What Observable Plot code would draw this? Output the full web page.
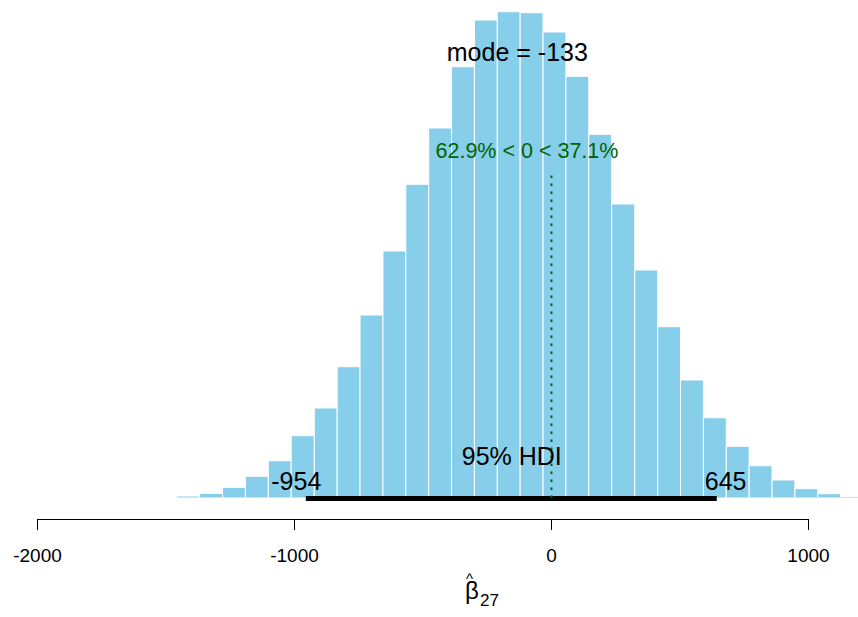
<!DOCTYPE html>
<html><head><meta charset="utf-8">
<script src="https://cdn.jsdelivr.net/npm/d3@7"></script>
<script src="https://cdn.jsdelivr.net/npm/@observablehq/plot@0.6"></script>
<style>
html,body{margin:0;padding:0;background:#fff;overflow:hidden}
#chart svg{display:block}
</style></head><body><div id="chart"></div>
<script>
// Histogram bin edges (31 edges, 30 bins)
const binEdges = [-1456, -1367, -1278, -1189, -1100, -1011, -921, -832, -743, -654,
  -565, -476, -387, -298, -209, -120, -31, 58, 147, 236,
  326, 415, 504, 593, 682, 771, 860, 949, 1038, 1127, 1216];
// Relative bar heights
const binCounts = [2, 4.7, 10.7, 21.7, 37.3, 62.3, 90, 131.3, 183, 247,
  313.7, 370, 431.3, 478, 486.3, 485.3, 466, 421.7, 363.7, 294,
  228, 171.3, 118, 80.3, 51.7, 32.3, 18, 9.3, 4.3, 1.6];
const xTicks = [-2000, -1000, 0, 1000];
const hdi = [-954, 645];
const modeValue = -133;
const compValue = 0;
const pctBelow = 62.9;
const pctAbove = 37.1;

const bins = binCounts.map((c, i) => ({x1: binEdges[i], x2: binEdges[i + 1], count: c}));
const maxCount = d3.max(binCounts);
const font = "'Liberation Sans', Arial, Helvetica, sans-serif";
const green = "#006400";

const plot = Plot.plot({
  width: 858,
  height: 617,
  marginLeft: 37,
  marginRight: 50,
  marginTop: 11,
  marginBottom: 98,
  style: {fontFamily: font, fontSize: "19px", background: "white", color: "black"},
  x: {domain: [-2000, 1000], ticks: xTicks, tickFormat: d => String(d), tickSize: 11, tickPadding: 18, label: null},
  y: {domain: [0, maxCount], range: [498, 11.7], axis: null},
  marks: [
    Plot.rectY(bins, {x1: "x1", x2: "x2", y: "count", fill: "#87CEEB", stroke: "white", strokeWidth: 1}),
    Plot.ruleY([0], {x1: -2000, x2: 1000, dy: 21, stroke: "black", strokeWidth: 1}),
    Plot.ruleY([0], {x1: hdi[0], x2: hdi[1], stroke: "black", strokeWidth: 5}),
    Plot.ruleX([compValue], {y1: 0, y2: 0.96 * 0.7 * maxCount, stroke: green, strokeWidth: 2, strokeDasharray: "2.5,5.5"}),
    Plot.text([hdi[0]], {x: d => d, y: 0, text: d => String(d), textAnchor: "end", lineAnchor: "bottom", dx: 15, dy: -9, fontSize: 25, fill: "black"}),
    Plot.text([hdi[1]], {x: d => d, y: 0, text: d => String(d), textAnchor: "start", lineAnchor: "bottom", dx: -12.5, dy: -9, fontSize: 25, fill: "black"}),
    Plot.text(["95% HDI"], {x: d3.mean(hdi), y: 0, text: d => d, textAnchor: "middle", lineAnchor: "bottom", dy: -34, fontSize: 25, fill: "black"}),
    Plot.text([modeValue], {x: d => d, y: 0.9 * maxCount, text: d => `mode = ${d}`, textAnchor: "middle", lineAnchor: "bottom", fontSize: 25, fill: "black"}),
    Plot.text([compValue], {x: d => d, y: 0.7 * maxCount, text: d => `${pctBelow}% < ${d} < ${pctAbove}%`, textAnchor: "start", lineAnchor: "bottom", dx: -116, fontSize: 21.5, fill: green}),
    // x-axis label: beta-hat with subscript 27
    Plot.text(["\u03B2"], {frameAnchor: "bottom", text: d => d, textAnchor: "middle", lineAnchor: "bottom", dx: 49, dy: 79, fontSize: 24, fill: "black"}),
    Plot.text(["^"], {frameAnchor: "bottom", text: d => d, textAnchor: "middle", lineAnchor: "bottom", dx: 46.5, dy: 64, fontSize: 15, fill: "black"}),
    Plot.text(["27"], {frameAnchor: "bottom", text: d => d, textAnchor: "start", lineAnchor: "bottom", dx: 57, dy: 86.5, fontSize: 17, fill: "black"})
  ]
});
document.getElementById("chart").appendChild(plot);
</script>
</body></html>
